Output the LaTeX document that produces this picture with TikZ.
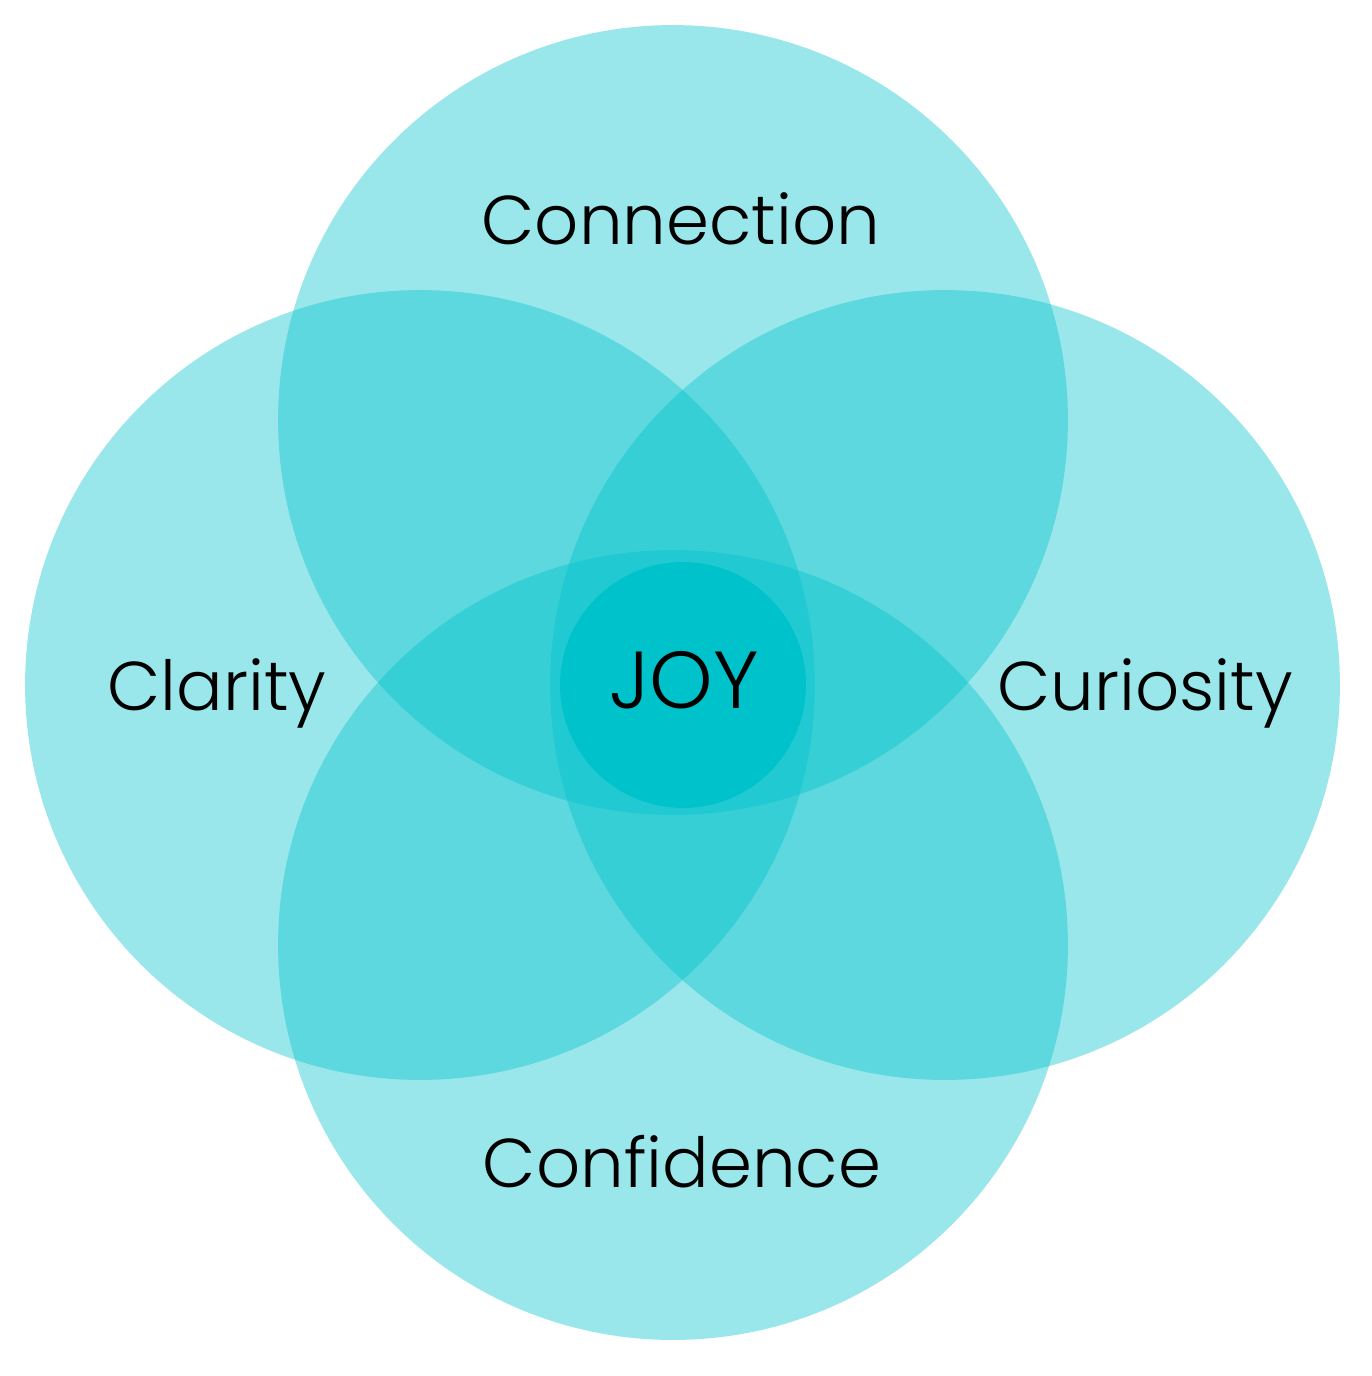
\documentclass[tikz,border=0pt]{standalone}
\usepackage{fontspec}
\setmainfont{Poppins Light}
\usepackage{xcolor}
\definecolor{joyteal}{HTML}{00C2CB}

\begin{document}
\begin{tikzpicture}[
      x=0.02cm, y=-0.02cm,
      petal/.style={circle, fill=joyteal, fill opacity=0.4, inner sep=0pt,
                    minimum size=15.8cm},
      core/.style={circle, fill=joyteal, inner sep=0pt, minimum size=4.92cm},
      lab/.style={anchor=base, inner sep=0pt, font=\fontsize{39.3}{45}\selectfont}]
    \useasboundingbox (0,0) rectangle (1372,1376);
    \node[petal] (top) at (673,420) {};
    \node[petal] (left) at (420,685) {};
    \node[petal] (right) at (945,685) {};
    \node[petal] (bottom) at (673,945) {};
    \node[core] (joy) at (683,685) {};
    \node[lab, font=\fontsize{46}{50}\selectfont] (joytext) at (684,708) {JOY};
    \node[lab] (connection) at (681,244) {Connection};
    \node[lab] (clarity) at (217,710) {Clarity};
    \node[lab] (curiosity) at (1145,710) {Curiosity};
    \node[lab] (confidence) at (682,1187) {Confidence};
  \end{tikzpicture}
\end{document}
